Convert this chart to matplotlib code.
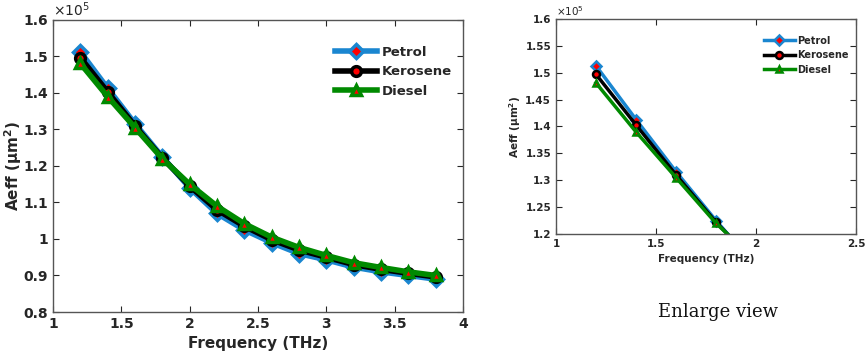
import matplotlib
matplotlib.use("Agg")
import matplotlib.pyplot as plt
from matplotlib.ticker import FuncFormatter, MultipleLocator

# frequency (THz) and effective area (um^2)
freq = [1.2, 1.4, 1.6, 1.8, 2.0, 2.2, 2.4, 2.6, 2.8, 3.0, 3.2, 3.4, 3.6, 3.8]
petrol = [151300, 141300, 131600, 122500, 114000, 107000, 102500, 99000,
          96000, 94300, 92300, 91000, 90000, 89000]
kerosene = [149700, 140300, 131000, 122200, 114500, 108000, 103500, 99800,
            97000, 95000, 93000, 91700, 90600, 89600]
diesel = [148100, 139000, 130500, 122000, 115000, 109000, 104200, 100500,
          97700, 95500, 93500, 92200, 91000, 90000]
names = ["Petrol", "Kerosene", "Diesel"]

txt = "#262626"
styles = [
    dict(color="#1a86d0", marker="D", mec="#1a86d0"),
    dict(color="black", marker="o", mec="black"),
    dict(color="#008a00", marker="^", mec="#008a00"),
]

fmt = FuncFormatter(lambda v, p: f"{v / 1e5:g}")


def draw(ax, lw, ms, mew, fs, lfs, xlim, ylim, ystep, legpos, lsp, xlab_fs, ylab_x):
    for vals, name, st in zip([petrol, kerosene, diesel], names, styles):
        ax.plot(freq, vals, color=st["color"], lw=lw, marker=st["marker"],
                ms=ms, mfc="red", mec=st["mec"], mew=mew, label=name)
    ax.set_xlim(*xlim)
    ax.set_ylim(*ylim)
    ax.xaxis.set_major_locator(MultipleLocator(0.5))
    ax.yaxis.set_major_locator(MultipleLocator(ystep))
    ax.yaxis.set_major_formatter(fmt)
    ax.xaxis.set_major_formatter(FuncFormatter(lambda v, p: f"{v:g}"))
    ax.tick_params(direction="in", top=True, right=True, colors=txt,
                   labelsize=fs, length=4)
    for lab in ax.get_xticklabels() + ax.get_yticklabels():
        lab.set_fontweight("bold")
    for s in ax.spines.values():
        s.set_color("#555555")
        s.set_linewidth(1.0)
    ax.set_xlabel("Frequency (THz)", fontsize=xlab_fs, fontweight="bold", color=txt)
    ax.set_ylabel(r"Aeff ($\mathbf{\mu m^2}$)", fontsize=xlab_fs, fontweight="bold", color=txt)
    ax.yaxis.set_label_coords(ylab_x, 0.5)
    ax.text(0.0, 1.005, r"$\times10^5$", transform=ax.transAxes, fontsize=fs,
            color=txt, va="bottom", ha="left")
    leg = ax.legend(loc="upper right", bbox_to_anchor=legpos, frameon=False,
                    prop=dict(size=lfs, weight="bold"), handlelength=3.2,
                    labelspacing=lsp, handletextpad=0.3, borderaxespad=0)
    for t in leg.get_texts():
        t.set_color(txt)


fig = plt.figure(figsize=(8.65, 3.61), dpi=100)
W, H = 865, 361

ax1 = fig.add_axes([53 / W, 1 - 312 / H, 410 / W, 292 / H])
draw(ax1, 4, 7, 2.5, 10, 9.5, (1, 4), (80000, 160000), 10000,
     (0.985, 0.93), 0.5, 11, -0.07)

ax2 = fig.add_axes([556 / W, 1 - 234 / H, 300 / W, 215 / H])
draw(ax2, 2.5, 5, 1.8, 7.5, 7, (1, 2.5), (120000, 160000), 5000,
     (0.99, 0.94), 0.45, 7.5, -0.11)

fig.text(718 / W, 1 - 312 / H, "Enlarge view", family="DejaVu Serif",
         fontsize=13, ha="center", va="center", color="#111111")

fig.savefig("out.png", dpi=100)
